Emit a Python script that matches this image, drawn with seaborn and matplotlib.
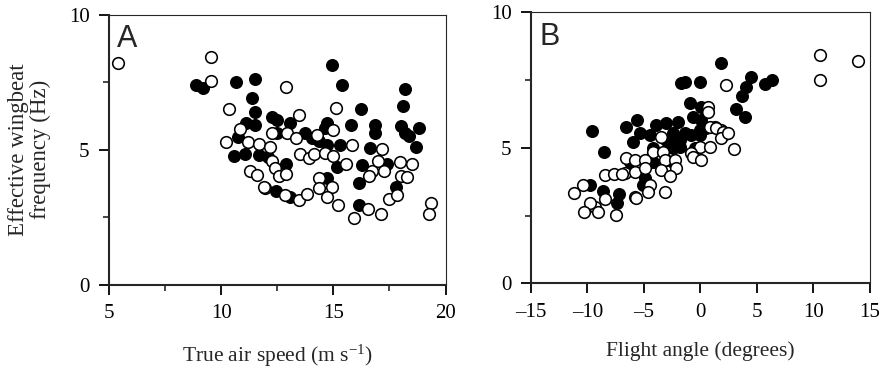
import numpy as np
import pandas as pd
import matplotlib
matplotlib.use("Agg")
import matplotlib.pyplot as plt
import seaborn as sns
from matplotlib.ticker import MultipleLocator, FixedLocator

# ---- Data: panel A (true air speed vs effective wingbeat frequency)
a_filled_x = [8.9, 9.2, 10.67, 11.5, 11.37, 11.5, 11.1, 11.5, 10.77, 14.94, 15.39, 18.2, 18.1, 16.25,
              15.8, 16.87, 16.87, 18.0, 18.2, 18.36, 18.8, 12.26, 12.49, 13.08, 14.72, 14.64, 12.49,
              13.75, 14.05, 14.34, 14.72, 15.3, 16.65, 18.7, 12.89, 15.16, 16.28, 17.4, 14.72, 16.13,
              17.8, 12.44, 13.08, 16.13, 10.55, 11.07, 11.67, 12.1]
a_filled_y = [7.4, 7.3, 7.49, 7.6, 6.9, 6.38, 6.0, 5.93, 5.49, 8.12, 7.38, 7.25, 6.63, 6.5,
              5.93, 5.93, 5.62, 5.87, 5.62, 5.5, 5.8, 6.23, 6.11, 5.99, 6.0, 5.8, 5.62,
              5.62, 5.43, 5.31, 5.19, 5.19, 5.06, 5.1, 4.48, 4.38, 4.44, 4.48, 3.95, 3.77,
              3.62, 3.46, 3.27, 2.96, 4.78, 4.85, 4.81, 4.75]
a_open_x = [5.4, 9.55, 9.55, 10.36, 10.85, 10.2, 11.2, 11.7, 12.9, 15.1, 13.45, 12.26, 12.93, 13.33,
            14.27, 15.0, 15.83, 17.17, 12.19, 13.53, 13.9, 14.12, 14.64, 15.0, 12.26, 12.4, 12.56,
            12.89, 11.96, 12.86, 13.45, 13.82, 14.34, 14.34, 14.94, 14.72, 15.54, 15.2, 16.7, 16.6,
            17.0, 17.25, 17.95, 18.5, 18.0, 18.3, 17.5, 17.84, 16.55, 15.9, 17.14, 19.33, 19.26,
            11.3, 11.6, 11.93]
a_open_y = [8.2, 8.42, 7.53, 6.5, 5.78, 5.3, 5.3, 5.2, 7.32, 6.54, 6.3, 5.62, 5.62, 5.43,
            5.56, 5.74, 5.19, 5.02, 5.12, 4.85, 4.69, 4.85, 4.88, 4.78, 4.57, 4.32, 4.04,
            4.11, 3.58, 3.33, 3.15, 3.36, 3.95, 3.58, 3.62, 3.27, 4.48, 2.96, 4.23, 4.04,
            4.57, 4.23, 4.53, 4.48, 4.04, 3.99, 3.17, 3.33, 2.8, 2.49, 2.63, 3.05, 2.63,
            4.23, 4.07, 3.62]

# ---- Data: panel B (flight angle vs effective wingbeat frequency)
b_filled_x = [-1.69, -9.62, -5.6, -6.57, -3.91, -3.02, -2.0, -8.5, 1.79, -0.07, -1.4, 4.45, 4.07, 3.68,
              5.69, 6.34, 3.18, 3.98, -0.96, 0.02, -0.66, 0.08, 2.15, -0.07, 0.52, -5.39, -4.5, -5.98,
              -2.43, -1.4, -0.8, -3.02, -2.29, -1.84, -4.21, -2.43, -1.84, -0.51, -0.07, -4.21, -3.02,
              -2.43, -6.28, -4.95, -5.1, -7.2, -7.37, -9.82, -8.64]
b_filled_y = [7.4, 5.63, 6.03, 5.78, 5.84, 5.9, 5.96, 4.85, 8.14, 7.44, 7.44, 7.62, 7.25, 6.91,
              7.35, 7.48, 6.42, 6.13, 6.66, 6.49, 6.15, 6.03, 5.51, 5.66, 5.72, 5.53, 5.47, 5.22,
              5.53, 5.53, 5.47, 5.29, 5.17, 5.29, 4.98, 4.98, 5.04, 4.98, 5.47, 4.49, 4.55,
              4.49, 4.49, 3.87, 3.63, 3.29, 2.97, 3.63, 3.42]
b_open_x = [10.57, 10.57, 13.9, 2.3, 0.67, 0.67, 1.26, 1.85, 2.3, -0.07, 0.82, 2.97, 0.82, 1.41,
            2.0, 1.85, -3.47, -4.21, -3.32, -0.8, -0.66, 0.08, -3.17, -2.29, -2.14, -3.47, -2.73,
            -6.57, -5.83, -4.95, -6.72, -5.83, -4.95, -4.5, -4.65, -5.83, -3.17, -7.46, -8.49, -7.67,
            -6.92, -10.42, -11.15, -8.49, -9.29, -9.82, -10.33, -9.08, -5.68, 2.44]
b_open_y = [8.42, 7.5, 8.21, 7.32, 6.49, 6.33, 5.76, 5.66, 5.54, 5.04, 5.04, 4.94, 5.78, 5.72,
            5.59, 5.35, 5.41, 4.86, 4.86, 4.8, 4.67, 4.55, 4.55, 4.55, 4.24, 4.18, 3.96,
            4.61, 4.55, 4.55, 4.06, 4.12, 4.24, 3.63, 3.38, 3.2, 3.38, 2.52, 4.0, 4.03,
            4.03, 3.63, 3.32, 3.1, 2.83, 2.95, 2.64, 2.64, 3.14, 5.53]

a_xticks = [5, 10, 15, 20]
b_xticks = [-15, -10, -5, 0, 5, 10, 15]
b_xticklabels = ["\u201315", "\u201310", "\u20135", "0", "5", "10", "15"]
yticks = [0, 5, 10]

sns.set_theme(style="ticks")
plt.rcParams['font.family'] = ['Liberation Serif', 'DejaVu Serif']
plt.rcParams['mathtext.fontset'] = 'custom'
plt.rcParams['mathtext.rm'] = 'Liberation Serif'
plt.rcParams['mathtext.it'] = 'Liberation Serif:italic'

fig = plt.figure(figsize=(8.93, 3.70), dpi=100)
axA = fig.add_axes([0.122, 0.2297, 0.377, 0.731])
axB = fig.add_axes([0.5946, 0.2343, 0.3796, 0.733])

dfA_f = pd.DataFrame({"x": a_filled_x, "y": a_filled_y})
dfA_o = pd.DataFrame({"x": a_open_x, "y": a_open_y})
dfB_f = pd.DataFrame({"x": b_filled_x, "y": b_filled_y})
dfB_o = pd.DataFrame({"x": b_open_x, "y": b_open_y})

ms = 70
for ax, df_f, df_o in [(axA, dfA_f, dfA_o), (axB, dfB_f, dfB_o)]:
    sns.scatterplot(data=df_f, x="x", y="y", ax=ax, s=ms, color="black",
                    edgecolor="black", linewidth=1.0, zorder=3)
    sns.scatterplot(data=df_o, x="x", y="y", ax=ax, s=ms, facecolor="white",
                    edgecolor="black", linewidth=1.15, zorder=4)
    ax.set_ylim(0, 10)
    ax.yaxis.set_major_locator(FixedLocator(yticks))
    ax.yaxis.set_minor_locator(FixedLocator([2.5, 7.5]))
    for side in ["left", "bottom"]:
        ax.spines[side].set_linewidth(1.5)
    for side in ["top", "right"]:
        ax.spines[side].set_visible(True)
        ax.spines[side].set_linewidth(0.8)
    ax.tick_params(which="major", direction="out", length=7, width=1.3,
                   labelsize=15, pad=7, colors="black")
    ax.tick_params(which="minor", direction="out", length=4, width=1.2)
    ax.set_facecolor("white")

axA.set_xlim(5, 20)
axA.xaxis.set_major_locator(FixedLocator(a_xticks))
axA.xaxis.set_minor_locator(FixedLocator([7.5, 12.5, 17.5]))
axB.set_xlim(-15, 15)
axB.xaxis.set_major_locator(FixedLocator(b_xticks))
axB.set_xticklabels(b_xticklabels)

axA.set_xlabel("True air speed (m s$^{\\mathregular{-1}}$)", fontsize=15.5, labelpad=14)
axB.set_xlabel("Flight angle (degrees)", fontsize=15.5, labelpad=14)
axA.set_ylabel("Effective wingbeat\nfrequency (Hz)", fontsize=16.5, labelpad=13,
               linespacing=1.05)
axB.set_ylabel("")

axA.text(0.025, 0.965, "A", transform=axA.transAxes, ha="left", va="top",
         fontsize=22, family="Liberation Sans")
axB.text(0.025, 0.965, "B", transform=axB.transAxes, ha="left", va="top",
         fontsize=22, family="Liberation Sans")

fig.savefig("out.png", dpi=100, facecolor="white")
